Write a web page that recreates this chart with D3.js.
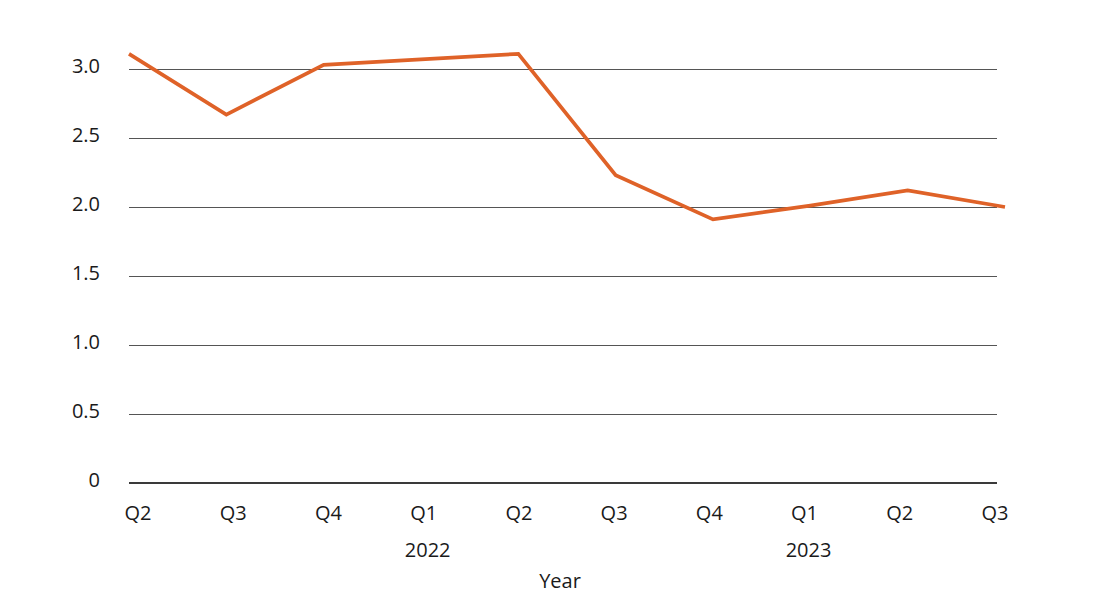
<!DOCTYPE html>
<html>
<head>
<meta charset="utf-8">
<script src="https://cdn.jsdelivr.net/npm/d3@7"></script>
<style>
  body { margin: 0; background: #fff; }
  svg text { font-family: "Open Sans", sans-serif; font-size: 20px; fill: #1a1a1a; }
</style>
</head>
<body>
<svg width="1108" height="612"></svg>
<script>
const quarters = ['Q2', 'Q3', 'Q4', 'Q1', 'Q2', 'Q3', 'Q4', 'Q1', 'Q2', 'Q3'];
const values = [3.11, 2.67, 3.03, 3.07, 3.11, 2.23, 1.91, 2.01, 2.12, 2.0];
const years = [{ label: '2022', at: 3 }, { label: '2023', at: 7 }];
const yTicks = [0, 0.5, 1.0, 1.5, 2.0, 2.5, 3.0];

const svg = d3.select('svg');
const idx = d3.range(values.length);

const x = d3.scalePoint().domain(idx).range([129, 1005]);
const xLabel = d3.scalePoint().domain(idx).range([138, 995]);
const y = d3.scaleLinear().domain([0, 3]).range([483, 69]);

const gridEnd = x(idx[idx.length - 1]) - 8;

// gridlines
svg.append('g').selectAll('line')
  .data(yTicks.filter(d => d > 0))
  .enter().append('line')
  .attr('x1', x(0)).attr('x2', gridEnd)
  .attr('y1', d => y(d) + 0.5).attr('y2', d => y(d) + 0.5)
  .attr('stroke', '#555').attr('stroke-width', 1)
  .attr('shape-rendering', 'crispEdges');

// zero axis
svg.append('line')
  .attr('x1', x(0)).attr('x2', gridEnd)
  .attr('y1', y(0)).attr('y2', y(0))
  .attr('stroke', '#3a3a3a').attr('stroke-width', 2);

// y labels
svg.append('g').selectAll('text')
  .data(yTicks)
  .enter().append('text')
  .attr('x', 100)
  .attr('y', d => y(d) + 4)
  .attr('text-anchor', 'end')
  .text(d => d === 0 ? '0' : d.toFixed(1));

// quarter labels
svg.append('g').selectAll('text')
  .data(idx)
  .enter().append('text')
  .attr('x', d => xLabel(d))
  .attr('y', 520)
  .attr('text-anchor', 'middle')
  .text(d => quarters[d]);

// year labels
svg.append('g').selectAll('text')
  .data(years)
  .enter().append('text')
  .attr('x', d => xLabel(d.at) + 4)
  .attr('y', 557)
  .attr('text-anchor', 'middle')
  .text(d => d.label);

svg.append('text')
  .attr('x', 560).attr('y', 588)
  .attr('text-anchor', 'middle')
  .text('Year');

// line
const line = d3.line()
  .x((d, i) => x(i))
  .y(d => y(d));

svg.append('path')
  .datum(values)
  .attr('d', line)
  .attr('fill', 'none')
  .attr('stroke', '#df6228')
  .attr('stroke-width', 3.7)
  .attr('stroke-linejoin', 'miter');
</script>
</body>
</html>
